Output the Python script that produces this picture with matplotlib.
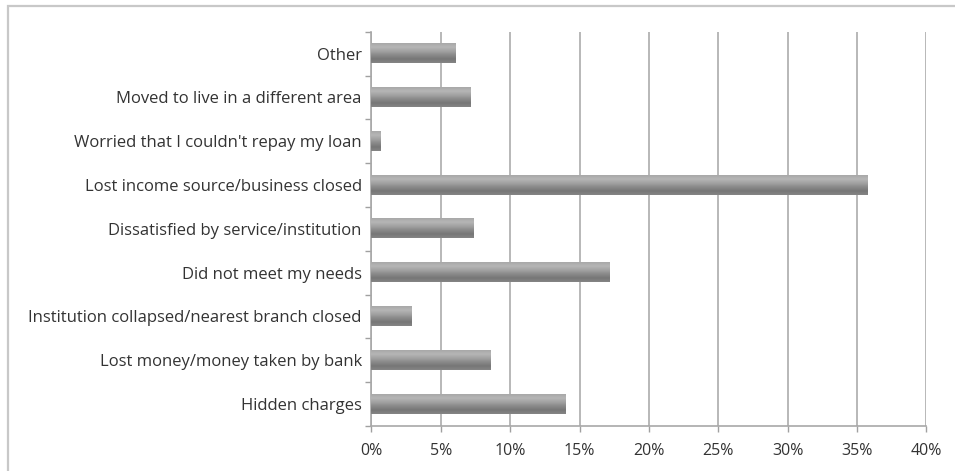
import numpy as np
import matplotlib.pyplot as plt
from matplotlib.patches import Rectangle
from matplotlib.colors import LinearSegmentedColormap

# Reasons for leaving, top to bottom
reasons = [
    "Other",
    "Moved to live in a different area",
    "Worried that I couldn't repay my loan",
    "Lost income source/business closed",
    "Dissatisfied by service/institution",
    "Did not meet my needs",
    "Institution collapsed/nearest branch closed",
    "Lost money/money taken by bank",
    "Hidden charges",
]
shares = [6.1, 7.2, 0.7, 35.8, 7.4, 17.2, 2.9, 8.6, 14.0]  # percent
x_ticks = [0, 5, 10, 15, 20, 25, 30, 35, 40]

plt.rcParams['font.family'] = ['Open Sans', 'DejaVu Sans']

fig = plt.figure(figsize=(9.55, 4.71), dpi=100)
ax = fig.add_axes([0.389, 0.0955, 0.581, 0.8372])

# shaded grey fill for the bars, light at the top and dark at the bottom
shade = LinearSegmentedColormap.from_list(
    'shade', ['#858585', '#767676', '#8a8a8a', '#a2a2a2', '#b6b6b6', '#a8a8a8'])
grad = np.linspace(0, 1, 64).reshape(-1, 1)

bar_h = 0.44
ypos = np.arange(len(reasons))[::-1]
for y, v in zip(ypos, shares):
    ax.imshow(grad, cmap=shade, aspect='auto', origin='lower',
              extent=[0, v, y - bar_h / 2, y + bar_h / 2], zorder=3,
              interpolation='bilinear')

ax.set_xlim(0, 40)
ax.set_ylim(-0.5, len(reasons) - 0.5)

ax.set_xticks(x_ticks)
ax.set_xticklabels([f'{t}%' for t in x_ticks])
ax.set_yticks(ypos)
ax.set_yticklabels(reasons)
ax.set_yticks(np.arange(len(reasons) + 1) - 0.5, minor=True)

ax.tick_params(axis='y', which='major', length=0, pad=7, labelsize=12, labelcolor='#333333')
ax.tick_params(axis='y', which='minor', length=4, color='#a0a0a0', width=1)
ax.tick_params(axis='x', length=4, color='#a0a0a0', width=1, pad=8,
               labelsize=11.5, labelcolor='#333333')

ax.grid(axis='x', color='#b8b8b8', linewidth=1.4, zorder=1)
ax.set_axisbelow(True)
for side in ['top', 'right']:
    ax.spines[side].set_visible(False)
for side in ['left', 'bottom']:
    ax.spines[side].set_color('#a8a8a8')
    ax.spines[side].set_linewidth(1.2)

# outer chart frame
fig.add_artist(Rectangle((8 / 955, -0.1), 1.0, 1.1 - 6 / 471,
                         transform=fig.transFigure, fill=False,
                         edgecolor='#c8c8c8', linewidth=1.6))

fig.savefig('out.png', dpi=100)
